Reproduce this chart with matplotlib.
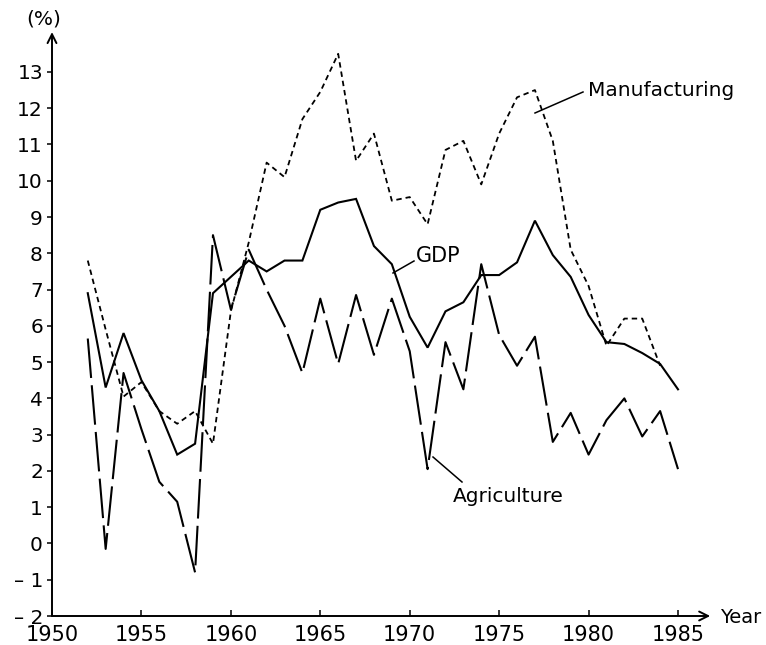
import matplotlib
matplotlib.use("Agg")
import matplotlib.pyplot as plt

plt.rcParams['font.family'] = ['DejaVu Sans']

# ---- data ----
years = list(range(1952, 1986))
gdp = [6.9, 4.3, 5.8, 4.5, 3.65, 2.45, 2.75, 6.9, 7.35, 7.8,
       7.5, 7.8, 7.8, 9.2, 9.4, 9.5, 8.2, 7.7, 6.25, 5.4,
       6.4, 6.65, 7.4, 7.4, 7.75, 8.9, 7.95, 7.35, 6.3, 5.55,
       5.5, 5.25, 4.95, 4.25]
manu_years = list(range(1952, 1985))
manufacturing = [7.8, 5.9, 4.05, 4.45, 3.65, 3.3, 3.65, 2.75, 6.4, 8.3,
                 10.5, 10.1, 11.7, 12.45, 13.5, 10.55, 11.3, 9.45, 9.55, 8.8,
                 10.85, 11.1, 9.9, 11.3, 12.3, 12.5, 11.1, 8.1, 7.1, 5.45,
                 6.2, 6.2, 4.9]
agriculture = [5.65, -0.15, 4.7, 3.15, 1.7, 1.15, -0.8, 8.5, 6.45, 8.1,
               7.0, 6.0, 4.7, 6.75, 4.95, 6.85, 5.2, 6.75, 5.3, 2.05,
               5.55, 4.25, 7.7, 5.75, 4.9, 5.7, 2.8, 3.6, 2.45, 3.4,
               4.0, 2.95, 3.65, 2.05]
xticks = [1950, 1955, 1960, 1965, 1970, 1975, 1980, 1985]
yticks = list(range(-2, 14))
ytick_labels = ['\u2013 2', '\u2013 1'] + [str(v) for v in range(0, 14)]

W, H = 766, 645
fig = plt.figure(figsize=(W / 100, H / 100), dpi=100)

# pixel geometry of the reference
px_per_year = 17.886
px_per_unit = 36.27
x0_px, y_bottom_px = 52, 616
xmin, xmax = 1950, 1989.5
ymin, ymax = -2, 14.8
ax = fig.add_axes([x0_px / W, (H - y_bottom_px) / H,
                   (xmax - xmin) * px_per_year / W,
                   (ymax - ymin) * px_per_unit / H])
ax.set_xlim(xmin, xmax)
ax.set_ylim(ymin, ymax)
for s in ax.spines.values():
    s.set_visible(False)

# axes with arrows
ax.annotate('', xy=(1986.8, -2), xytext=(1950, -2),
            arrowprops=dict(arrowstyle='->', lw=1.4, color='black',
                            mutation_scale=16, shrinkA=0, shrinkB=0))
ax.annotate('', xy=(1950, 14.1), xytext=(1950, -2),
            arrowprops=dict(arrowstyle='->', lw=1.4, color='black',
                            mutation_scale=16, shrinkA=0, shrinkB=0))

ax.set_xticks(xticks)
ax.set_xticklabels([str(t) for t in xticks], fontsize=15)
ax.set_yticks(yticks)
ax.set_yticklabels(ytick_labels, fontsize=14.5)
ax.tick_params(axis='x', direction='in', length=4, width=1.1, pad=6.8)
ax.tick_params(axis='y', direction='out', length=3.5, width=1.1, pad=3)

# series
ax.plot(years, gdp, color='black', lw=1.5, solid_joinstyle='miter')
ax.plot(manu_years, manufacturing, color='black', lw=1.3,
        linestyle=(0, (3.0, 2.2)))
ax.plot(years, agriculture, color='black', lw=1.5,
        linestyle=(0, (19, 3.5)))


def fp(x, y):
    return (x / W, 1 - y / H)


# labels with leader lines
def leader(p1, p2):
    fig.add_artist(plt.Line2D([p1[0] / W, p2[0] / W],
                              [1 - p1[1] / H, 1 - p2[1] / H],
                              color='black', lw=1.1))


leader((535, 113), (583, 92))
fig.text(*fp(588, 96), 'Manufacturing', fontsize=14.5, ha='left', va='baseline')
leader((393, 273), (414, 261))
fig.text(*fp(416, 262), 'GDP', fontsize=15, ha='left', va='baseline')
leader((433, 457), (462, 482))
fig.text(*fp(453, 502), 'Agriculture', fontsize=14.5, ha='left', va='baseline')

fig.text(*fp(44, 19), '(%)', fontsize=14.5, ha='center', va='center')
fig.text(*fp(720, 623), 'Year', fontsize=14, ha='left', va='baseline')

fig.savefig('out.png', dpi=100)
